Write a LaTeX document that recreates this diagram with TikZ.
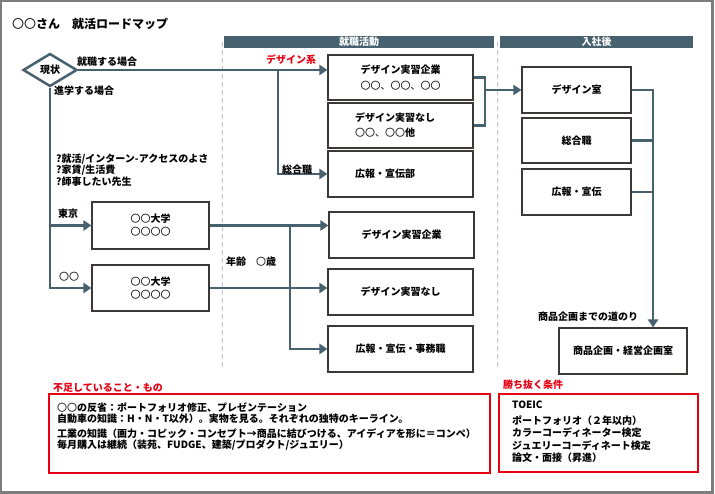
\documentclass[tikz,border=0pt]{standalone}
\usepackage{fontspec}
\setmainfont{Noto Sans CJK JP}
\usepackage{tikz}
\usetikzlibrary{shapes.geometric,arrows.meta}
\usepackage{xcolor}
\definecolor{roadslate}{RGB}{72,97,111}
\definecolor{roadred}{RGB}{230,0,18}
\definecolor{framegray}{RGB}{125,125,125}
\definecolor{dashgray}{RGB}{190,198,204}
\definecolor{boxline}{RGB}{60,56,56}

\tikzset{
    box/.style={draw=boxline, line width=1.1pt, minimum width=145pt, minimum height=46pt,
        inner sep=0pt, font=\bfseries\fontsize{10}{13}\selectfont, align=center},
    leftbox/.style={box, text width=91pt, inner xsep=27pt, align=left},
    redbox/.style={draw=roadred, line width=2.6pt, inner sep=0pt},
    bar/.style={fill=roadslate, text=white, minimum height=12pt, inner sep=0pt,
        font=\bfseries\fontsize{10}{12}\selectfont},
    conn/.style={draw=roadslate, line width=2.5pt, line join=miter},
    arr/.style={conn, -{Triangle[length=8pt,width=10pt]}},
    lbl/.style={anchor=west, inner sep=0pt, font=\bfseries\fontsize{10}{12}\selectfont},
    redlbl/.style={lbl, text=roadred},
    dashline/.style={draw=dashgray, line width=1pt, dash pattern=on 5pt off 3pt}
}

\begin{document}
\begin{tikzpicture}[x=1pt, y=-1pt]
    \useasboundingbox (0,0) rectangle (715,494);
    \draw[framegray, line width=2.2pt] (1.2,1.2) rectangle (712.5,492.5);

    % Title and header bars
    \node[lbl, font=\bfseries\fontsize{12}{14}\selectfont] (title) at (12,24) {{\mdseries 〇〇}さん　就活ロードマップ};
    \node[bar, minimum width=270pt] (hunt) at (359,42) {就職活動};
    \node[bar, minimum width=193pt] (join) at (596.5,42) {入社後};
    \draw[dashline] (222.5,42) -- (222.5,368);
    \draw[dashline] (497,42) -- (497,368);

    % Starting point
    \node[diamond, draw=roadslate, line width=2.5pt, minimum width=54pt, minimum height=33pt,
        inner sep=0pt, font=\bfseries\fontsize{10}{12}\selectfont] (now) at (50,70) {現状};

    % Job hunting boxes (upper)
    \node[box, minimum height=45pt] (desA) at (400.5,77.5)
        {デザイン実習企業\\[3pt]{\mdseries 〇〇、〇〇、〇〇}};
    \node[leftbox, minimum height=45pt] (desB) at (400.5,125.5)
        {デザイン実習なし\\[2pt]{\mdseries 〇〇、〇〇}他};
    \node[leftbox] (prC) at (400.5,174) {広報・宣伝部};

    % Schools
    \node[box, minimum width=117pt, minimum height=47pt, font=\fontsize{10}{13}\selectfont]
        (uniA) at (150.5,225.5) {〇〇\textbf{大学}\\〇〇〇〇};
    \node[box, minimum width=117pt, font=\fontsize{10}{13}\selectfont]
        (uniB) at (150.5,288) {〇〇\textbf{大学}\\〇〇〇〇};

    % Job hunting boxes (lower)
    \node[box] (desD) at (401.5,235) {デザイン実習企業};
    \node[box] (desE) at (400.5,292) {デザイン実習なし};
    \node[box] (offF) at (400.5,349) {広報・宣伝・事務職};

    % After joining
    \node[box, minimum width=109pt] (room) at (576.5,90) {デザイン室};
    \node[box, minimum width=109pt, minimum height=45pt] (gen) at (576.5,140.5) {総合職};
    \node[box, minimum width=109pt] (pub) at (576.5,192) {広報・宣伝};
    \node[box, minimum width=128pt] (plan) at (623,351) {商品企画・経営企画室};

    % Connectors
    \coordinate (j1) at (278,70);
    \coordinate (j2) at (290,225.5);
    \coordinate (j3) at (485,90);
    \coordinate (j4) at (653,90);
    \draw[arr] (now.east) -- (now.east -| desA.west);
    \draw[arr] (j1) |- (prC.west);
    \draw[arr] (now.south) |- (uniB.west);
    \draw[arr] (now.south |- uniA.west) -- (uniA.west);
    \draw[arr] (uniA.east) -- (uniA.east -| desD.west);
    \draw[arr] (j2) |- (offF.west);
    \draw[arr] (uniB.east) -- (uniB.east -| desE.west);
    \draw[conn] (desA.east) -| (j3) |- (desB.east);
    \draw[arr] (j3) -- (room.west);
    \draw[arr] (room.east) -| (j4 |- plan.north);
    \draw[conn] (gen.east) -- (gen.east -| j4);
    \draw[conn] (pub.east) -- (pub.east -| j4);

    % Labels
    \node[lbl] (lwork) at (77,62) {就職する場合};
    \node[redlbl] (ldes) at (266,60) {デザイン系};
    \node[lbl] (lstudy) at (54,91) {進学する場合};
    \node[lbl, align=left, font=\bfseries\fontsize{10}{11.5}\selectfont] (lq) at (56,170)
        {?就活/インターン-アクセスのよさ\\?家賃/生活費\\?師事したい先生};
    \node[lbl] (lgen) at (282,170) {総合職};
    \node[lbl] (ltokyo) at (58,214) {東京};
    \node[lbl, font=\fontsize{10}{12}\selectfont] (lother) at (59,277) {〇〇};
    \node[lbl] (lage) at (226,262) {年齢　{\mdseries 〇}歳};
    \node[lbl] (lroad) at (538,317) {商品企画までの道のり};

    % Bottom boxes
    \node[redlbl] (llack) at (53,388) {不足していること・もの};
    \node[redbox, minimum width=441pt, minimum height=79pt] (lack) at (269.5,433.5) {};
    \node[anchor=north west, inner sep=0pt, align=left, font=\bfseries\fontsize{10}{11.5}\selectfont]
        (tlack) at (57,402.5)
        {{\mdseries 〇〇}の反省：ポートフォリオ修正、プレゼンテーション\\
         自動車の知識：H・N・T以外）。実物を見る。それぞれの独特のキーライン。\\[3pt]
         工業の知識（画力・コピック・コンセプト→商品に結びつける、アイディアを形に＝コンペ）\\
         毎月購入は継続（装苑、FUDGE、建築/プロダクト/ジュエリー）};
    \node[redlbl] (lwin) at (503,385) {勝ち抜く条件};
    \node[redbox, minimum width=199pt, minimum height=78pt] (win) at (598.5,433) {};
    \node[anchor=north west, inner sep=0pt, align=left, font=\bfseries\fontsize{10}{12.5}\selectfont]
        (twin) at (512,400.5)
        {TOEIC\\[3.5pt]
         ポートフォリオ（２年以内）\\
         カラーコーディネーター検定\\
         ジュエリーコーディネート検定\\
         論文・面接（昇進）};
\end{tikzpicture}
\end{document}
